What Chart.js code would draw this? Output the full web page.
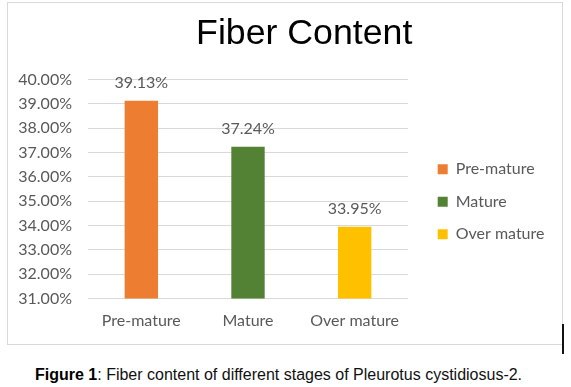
<!DOCTYPE html>
<html>
<head>
<meta charset="utf-8">
<script src="https://cdn.jsdelivr.net/npm/chart.js@4.4.0/dist/chart.umd.min.js"></script>
<style>
  body { margin: 0; background: #fff; width: 571px; height: 387px; position: relative; overflow: hidden; }
  #chart_box { position: absolute; left: 7px; top: 2px; width: 556px; height: 343px; border: 1px solid #d9d9d9; box-sizing: border-box; }
  #chart_box canvas { display: block; }
  #edge_mark { position: absolute; left: 562px; top: 324px; width: 2px; height: 30px; background: #111; }
  #caption { position: absolute; left: 35px; top: 366px; font-family: "Liberation Sans", Arial, sans-serif; font-size: 16px; line-height: 18px; color: #111; white-space: nowrap; }
  #caption b { color: #000; }
</style>
</head>
<body>
<div id="chart_box"><canvas id="chart_fiber" width="554" height="341"></canvas></div>
<div id="edge_mark"></div>
<div id="caption"><b>Figure 1</b>: Fiber content of different stages of Pleurotus cystidiosus-2.</div>
<script>
const categories = ["Pre-mature", "Mature", "Over mature"]
const fiber_values = [39.13, 37.24, 33.95]
const bar_colors = ["#ED7D31", "#548235", "#FFC000"]
const y_min = 31
const y_max = 40
const y_step = 1

function format_percent(value) {
    return Number(value).toFixed(2) + "%"
}

function measure_text(text, font) {
    const ctx = document.createElement("canvas").getContext("2d")
    ctx.font = font
    return ctx.measureText(text).width
}

// value labels above each bar, placed from the bar elements
const bar_value_labels = {
    id: "bar_value_labels",
    afterDatasetsDraw(chart) {
        const ctx = chart.ctx
        const meta = chart.getDatasetMeta(0)
        ctx.save()
        ctx.font = "16px Lato"
        ctx.fillStyle = "#595959"
        ctx.textAlign = "center"
        ctx.textBaseline = "alphabetic"
        meta.data.forEach((bar, i) => {
            ctx.fillText(format_percent(fiber_values[i]), bar.x, bar.y - 12.7)
        })
        ctx.restore()
    }
}

function create_chart() {
    Chart.defaults.font.family = "Lato"
    Chart.defaults.color = "#595959"
    const canvas = document.querySelector("#chart_fiber")
    const canvas_width = canvas.width

    // widths so the plot sits at x 80..400 and the title stays centred like excel
    const plot_left = 80
    const plot_right = 400
    const gap_width = 13.2
    const legend_pad = 16.5
    const widest_legend = Math.max(...categories.map(c => measure_text(c, "16px Lato")))
    const legend_width = legend_pad + 10 + 8 + widest_legend + 10
    const pad_right = canvas_width - (plot_right + gap_width) - legend_width
    const title_center = 296.2
    const pad_left = 2 * title_center - canvas_width + pad_right
    const y_axis_width = plot_left - pad_left
    const widest_tick = measure_text("40.00%", "16px Lato")

    new Chart(canvas, {
        type: "bar",
        data: {
            labels: categories,
            datasets: [{
                label: "Fiber Content",
                data: fiber_values,
                backgroundColor: bar_colors,
                borderWidth: 0,
                categoryPercentage: 1,
                barPercentage: 0.313
            }]
        },
        plugins: [bar_value_labels],
        options: {
            responsive: false,
            animation: false,
            devicePixelRatio: 1,
            layout: {
                padding: { left: pad_left, right: pad_right, top: 0, bottom: 0 }
            },
            scales: {
                x: {
                    type: "category",
                    offset: true,
                    grid: { display: false, drawTicks: false, tickLength: 0 },
                    border: { display: false },
                    ticks: { font: { size: 16 }, color: "#595959", padding: 13.15 }
                },
                y: {
                    type: "linear",
                    min: y_min,
                    max: y_max,
                    afterFit: (scale) => { scale.width = y_axis_width },
                    grid: { color: "#d9d9d9", lineWidth: 1, drawTicks: false, tickLength: 0 },
                    border: { display: false },
                    ticks: {
                        stepSize: y_step,
                        mirror: true,
                        crossAlign: "far",
                        padding: -16 - widest_tick,
                        font: { size: 16 },
                        color: "#595959",
                        callback: (value) => format_percent(value)
                    }
                },
                // empty spacer between plot and legend
                gap: {
                    type: "linear",
                    position: "right",
                    afterFit: (scale) => { scale.width = gap_width },
                    grid: { display: false, drawTicks: false },
                    border: { display: false },
                    ticks: { display: false }
                }
            },
            plugins: {
                title: {
                    display: true,
                    text: "Fiber Content",
                    color: "#000",
                    font: { family: "Liberation Sans", size: 35.7, weight: "normal" },
                    padding: { top: 9.4, bottom: 24.26 }
                },
                legend: {
                    display: true,
                    position: "right",
                    fullSize: false,
                    maxWidth: legend_width + 2,
                    title: {
                        display: true,
                        text: "",
                        font: { size: 12 },
                        padding: { top: 0, bottom: 11 }
                    },
                    labels: {
                        boxWidth: 10,
                        boxHeight: 10,
                        padding: legend_pad,
                        color: "#595959",
                        font: { size: 16 },
                        generateLabels: () => categories.map((name, i) => ({
                            text: name,
                            fillStyle: bar_colors[i],
                            strokeStyle: bar_colors[i],
                            lineWidth: 0,
                            hidden: false,
                            index: i
                        }))
                    }
                },
                tooltip: { enabled: false }
            }
        }
    })
}

Promise.all([
    document.fonts.load("16px Lato"),
    document.fonts.load("36px 'Liberation Sans'"),
    document.fonts.load("bold 16px 'Liberation Sans'")
]).then(create_chart, create_chart)
</script>
</body>
</html>
